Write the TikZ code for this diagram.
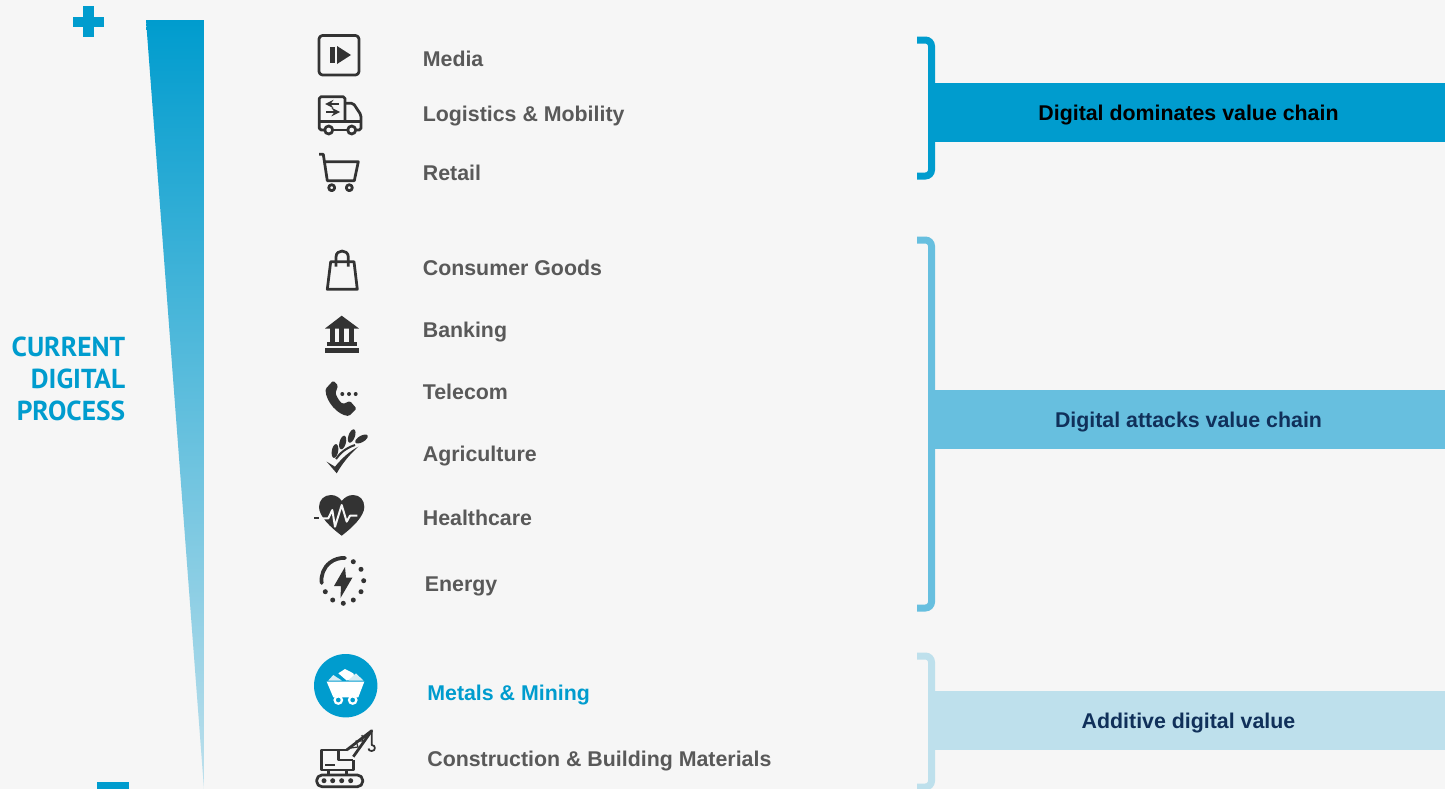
\documentclass[tikz,border=0pt]{standalone}
\usepackage{fontspec}
\usepackage{xcolor}
\setmainfont{Liberation Sans}
\newfontfamily\headfont{PT Sans}
\definecolor{paper}{HTML}{F6F6F6}
\definecolor{dominate}{HTML}{009CCE}
\definecolor{attack}{HTML}{67BFDF}
\definecolor{additive}{HTML}{BEE0EC}
\definecolor{labelgrey}{HTML}{595959}
\definecolor{icongrey}{HTML}{333333}
\definecolor{navy}{HTML}{10305A}
\tikzset{
	sector/.style={anchor=base west, font=\bfseries\fontsize{12.15}{15}\selectfont, text=labelgrey, inner sep=0pt},
	band/.style={fill=#1, minimum width=104.32mm, minimum height=11.8mm, inner sep=0pt, text height=11pt, text depth=2.2pt, font=\bfseries\fontsize{12.15}{15}\selectfont},
	bracket/.style={draw=#1, line width=1.4mm, rounded corners=3.5pt},
	iconline/.style={draw=icongrey, line width=0.55mm, line join=round},
	iconfill/.style={fill=icongrey},
}
\begin{document}
\begin{tikzpicture}[x=0.2mm, y=-0.2mm, >=stealth]
	\useasboundingbox (0, 0) rectangle (1445, 789);
	\fill[paper] (0, 0) rectangle (1445, 789);

	\fill[dominate] (72.5, 17) rectangle (104, 27);
	\fill[dominate] (82.5, 6) rectangle (93.5, 37);
	\fill[dominate] (97, 782) rectangle (129, 792);
	\shade[top color=dominate, middle color=attack!92!dominate, bottom color=additive]
		(146, 20) -- (204, 20) -- (204, 789) -- cycle;
	\node[anchor=north east, align=right, inner sep=0pt, text=dominate,
		font=\headfont\bfseries\fontsize{15.6}{18}\selectfont] (process) at (125.5, 337)
		{CURRENT\\DIGITAL\\PROCESS};

	\node[sector] (media) at (422.5, 66) {Media};
	\node[sector] (logistics) at (422.5, 121) {Logistics \& Mobility};
	\node[sector] (retail) at (422.5, 180) {Retail};
	\node[sector] (consumer) at (422.5, 275) {Consumer Goods};
	\node[sector] (banking) at (422.5, 337) {Banking};
	\node[sector] (telecom) at (422.5, 399) {Telecom};
	\node[sector] (agriculture) at (422.5, 461) {Agriculture};
	\node[sector] (healthcare) at (422.5, 525) {Healthcare};
	\node[sector] (energy) at (424.5, 591) {Energy};
	\node[sector, text=dominate] (metals) at (427, 700) {Metals \& Mining};
	\node[sector] (construction) at (427, 766) {Construction \& Building Materials};

	\draw[bracket=dominate] (917, 40) -- (931.5, 40) -- (931.5, 176) -- (917, 176);
	\draw[bracket=attack] (917, 240) -- (931.5, 240) -- (931.5, 608) -- (917, 608);
	\draw[bracket=additive] (917, 656) -- (931.5, 656) -- (931.5, 787) -- (917, 787);
	\node[band=dominate, text=black] (dominates) at (1188.5, 112.5) {Digital dominates value chain};
	\node[band=attack, text=navy] (attacks) at (1188.5, 419.5) {Digital attacks value chain};
	\node[band=additive, text=navy] (adds) at (1188.5, 720.5) {Additive digital value};

	% media
	\draw[iconline, rounded corners=2pt] (319, 35.5) rectangle (359, 75);
	\fill[iconfill] (330, 46.7) rectangle (334.8, 63.3);
	\fill[iconfill] (337, 46) -- (351, 55) -- (337, 64) -- cycle;

	% logistics
	\draw[iconline, rounded corners=1pt] (345, 121.7) -- (345, 96.7) -- (319.3, 96.7) -- (319.3, 130) -- (324.7, 130);
	\draw[iconline, rounded corners=1pt] (345, 103.3) -- (353.3, 103.3) -- (361, 115) -- (361, 130) -- (355.7, 130);
	\draw[iconline] (332.7, 130) -- (347.7, 130);
	\draw[iconline] (319.3, 121.7) -- (361, 121.7);
	\draw[iconline] (328.7, 130) circle[radius=4];
	\draw[iconline] (351.7, 130) circle[radius=4];
	\draw[iconline, line width=0.4mm, ->] (339, 104) -- (325, 104);
	\draw[iconline, line width=0.4mm, ->] (326, 112) -- (340, 112);

	% retail
	\draw[iconline] (319, 154.3) -- (323.3, 154.3) -- (327.3, 180.7) -- (354.3, 180.7) -- (358.3, 161.7) -- (325, 161.7);
	\draw[iconline] (331.7, 187.7) circle[radius=3];
	\draw[iconline] (349.3, 187.7) circle[radius=3];

	% consumer goods
	\draw[iconline] (327.3, 289.3) -- (357.3, 289.3) -- (354, 261.7) -- (330.7, 261.7) -- cycle;
	\draw[iconline] (336, 266.7) -- (336, 257) .. controls (336, 249) and (348.3, 249) .. (348.3, 257) -- (348.3, 266.7);

	% banking
	\fill[iconfill] (325, 328.5) -- (341.7, 315.7) -- (359, 328.5) -- cycle;
	\fill[iconfill] (329.5, 328) rectangle (334.5, 341.7);
	\fill[iconfill] (339.2, 328) rectangle (344.2, 341.7);
	\fill[iconfill] (348.8, 328) rectangle (353.8, 341.7);
	\fill[iconfill] (327.3, 341.5) rectangle (356.7, 346);
	\fill[iconfill] (325, 348.3) rectangle (359, 353.3);

	% telecom
	\fill[iconfill, rounded corners=0.8pt] (333.3, 380.5) -- (338, 385.5) -- (335.5, 393)
		.. controls (337, 397) and (339, 401) .. (343, 404) -- (350, 401) -- (356.5, 408.5) -- (349, 416)
		.. controls (338, 415) and (326, 402) .. (325.5, 389) -- cycle;
	\foreach \dotx in {342.3, 349, 355.7}
		\fill[iconfill] (\dotx, 394) circle[radius=2];

	% agriculture
	\fill[iconfill] (326.7, 461.7) -- (335, 466.7)
		.. controls (342, 458) and (350, 451) .. (358.3, 446.7)
		.. controls (349, 455) and (342, 464) .. (336.7, 473.3) -- cycle;
	\draw[iconline, line width=0.4mm] (336, 459) .. controls (340, 453) and (346, 448) .. (355, 445);
	\fill[iconfill, rotate around={-10:(335, 451)}] (335, 451) ellipse[x radius=3.2, y radius=7];
	\fill[iconfill, rotate around={-15:(342.7, 442.5)}] (342.7, 442.5) ellipse[x radius=3.2, y radius=7];
	\fill[iconfill, rotate around={-20:(351.7, 436)}] (351.7, 436) ellipse[x radius=3.2, y radius=7];
	\fill[iconfill, rotate around={-60:(361.5, 439)}] (361.5, 439) ellipse[x radius=3.2, y radius=7];

	% healthcare
	\fill[iconfill] (341.7, 535.7) .. controls (330, 527) and (319, 516) .. (319, 507)
		.. controls (319, 500) and (324, 495) .. (331, 495)
		.. controls (336, 495) and (340, 498) .. (341.7, 501)
		.. controls (344, 498) and (348, 495) .. (353, 495)
		.. controls (360, 495) and (364.3, 500) .. (364.3, 507)
		.. controls (364.3, 516) and (353, 527) .. (341.7, 535.7) -- cycle;
	\draw[draw=paper, line width=0.4mm, line join=round] (319, 518.3) -- (328.3, 518.3) -- (332.3, 510) -- (335, 526.7)
		-- (341.7, 505) -- (346.7, 521.7) -- (350, 515.7) -- (357.3, 515.7);
	\draw[draw=icongrey, line width=0.4mm] (314, 518.3) -- (319, 518.3);

	% energy
	\draw[iconline, line width=0.75mm, line cap=round] (321.7, 583) arc[start angle=-188, end angle=-86, radius=22];
	\foreach \dotx/\doty in {353.3/561.7, 361/569.3, 363.7/580.7, 361/591.7, 353.3/600, 343.3/603.3, 332.7/600, 325.3/591.7}
		\fill[iconfill] (\dotx, \doty) circle[radius=2.5];
	\fill[iconfill] (345, 567) -- (334, 586) -- (341, 586) -- (340.5, 598) -- (352.5, 577.5) -- (346, 577.5) -- cycle;

	% metals
	\fill[dominate] (345.7, 685.7) circle[radius=31.7];
	\fill[white] (326.7, 681.7) -- (364.3, 681.7) -- (358.3, 697.3) -- (333.3, 697.3) -- cycle;
	\fill[additive!60!white] (328.3, 680.5) -- (333.3, 675) -- (341.7, 680.5) -- cycle;
	\fill[white] (338.3, 673.3) -- (345, 669) -- (353.3, 673.3) -- (355, 678.3) -- (346.7, 680.5) -- cycle;
	\fill[additive!60!white] (348.3, 680.5) -- (356, 673.3) -- (363.3, 680.5) -- cycle;
	\draw[draw=white, fill=dominate, line width=0.45mm] (338.3, 700) circle[radius=3.7];
	\draw[draw=white, fill=dominate, line width=0.45mm] (352.7, 700) circle[radius=3.7];

	% construction
	\draw[iconline, rounded corners=3pt] (316.7, 775) rectangle (362.7, 786.7);
	\foreach \dotx in {324, 332.7, 341.7, 350.7}
		\fill[iconfill] (\dotx, 780.7) circle[radius=2.5];
	\draw[iconline] (346.7, 750) -- (321.7, 750) -- (321.7, 770) -- (353.3, 770) -- (353.3, 760);
	\draw[iconline] (338.3, 750) -- (338.3, 760) -- (353.3, 760);
	\draw[iconline] (325, 765) -- (335, 765);
	\draw[iconline] (328.3, 770) -- (328.3, 775);
	\draw[iconline] (346.7, 770) -- (346.7, 775);
	\draw[iconline] (346.7, 750) -- (371.7, 730.7) -- (353.3, 756.7);
	\draw[iconline, line width=0.25mm] (351, 748) -- (358, 747) -- (356, 741) -- (363, 741) -- (362, 735);
	\draw[iconline, line width=0.35mm] (371.7, 730.7) -- (371.7, 745)
		.. controls (376, 745) and (376, 751) .. (371.7, 751) .. controls (369.5, 751) and (368.5, 750) .. (368.5, 748.5);
\end{tikzpicture}
\end{document}
